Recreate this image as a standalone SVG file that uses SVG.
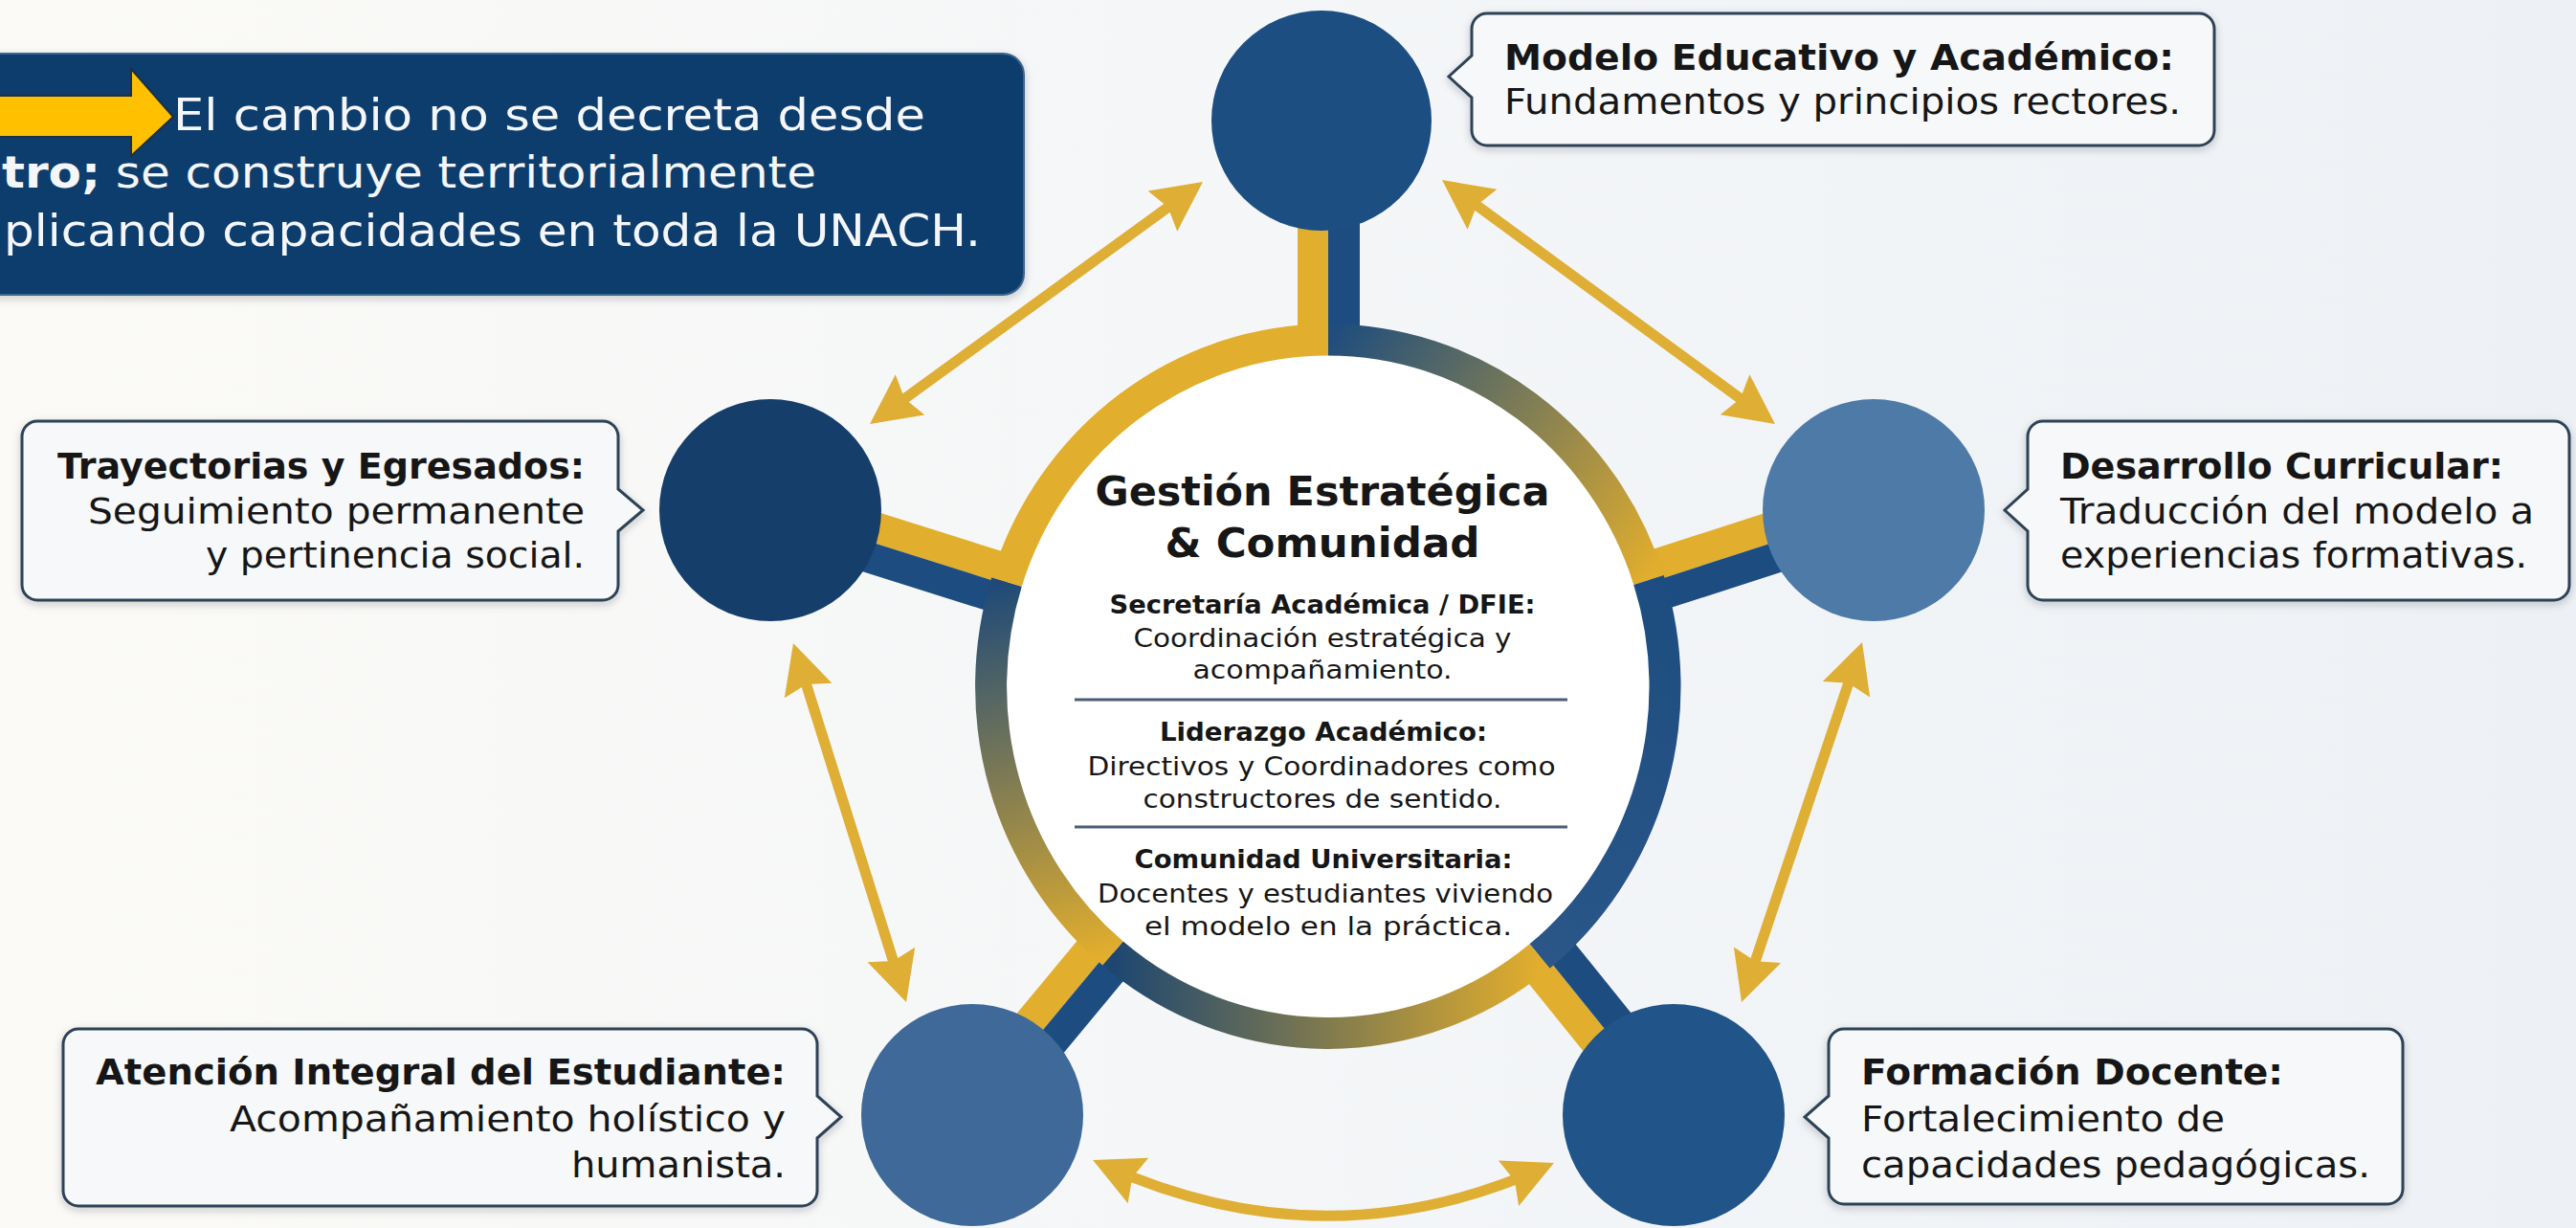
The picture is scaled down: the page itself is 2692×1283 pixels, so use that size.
<svg xmlns="http://www.w3.org/2000/svg" width="2692" height="1283" viewBox="0 0 2692 1283">
<defs>
<style>
.t{font-family:"DejaVu Sans","Open Sans",sans-serif;fill:#161616}
.b{font-weight:700}
.cb{fill:#f6f8fa;stroke:#2e4256;stroke-width:3}
.arr{fill:none;stroke:#dfae35;stroke-width:11;marker-start:url(#ah);marker-end:url(#ah)}
.wt{font-family:"DejaVu Sans","Open Sans",sans-serif;fill:#f4f6f9}
.gold{fill:#e2ae2d}
.blue{fill:#1d4d80}
</style>
<linearGradient id="bg" x1="0" y1="0" x2="1" y2="0">
<stop offset="0" stop-color="#fbfaf6"/>
<stop offset="0.5" stop-color="#f4f6f8"/>
<stop offset="1" stop-color="#edf1f5"/>
</linearGradient>
<linearGradient id="g1" gradientUnits="userSpaceOnUse" x1="1388" y1="355" x2="1723" y2="606">
<stop offset="0" stop-color="#1f4d7c"/><stop offset="1" stop-color="#e2ae2d"/>
</linearGradient>
<linearGradient id="g2" gradientUnits="userSpaceOnUse" x1="1723" y1="606" x2="1609" y2="999">
<stop offset="0" stop-color="#1d4d80"/><stop offset="1" stop-color="#2a5688"/>
</linearGradient>
<linearGradient id="g3" gradientUnits="userSpaceOnUse" x1="1609" y1="999" x2="1163" y2="996">
<stop offset="0" stop-color="#e2ae2d"/><stop offset="1" stop-color="#1d4670"/>
</linearGradient>
<linearGradient id="g4" gradientUnits="userSpaceOnUse" x1="1163" y1="996" x2="1052" y2="608">
<stop offset="0" stop-color="#e2ae2d"/><stop offset="1" stop-color="#1f4a78"/>
</linearGradient>
<marker id="ah" viewBox="0 -28 54 56" refX="40" refY="0" markerWidth="54" markerHeight="56" markerUnits="userSpaceOnUse" orient="auto-start-reverse">
<path d="M0,-26 L52,0 L0,26 L7,0 Z" fill="#dfae35"/>
</marker>
<filter id="sh" x="-10%" y="-20%" width="120%" height="150%">
<feDropShadow dx="0" dy="3" stdDeviation="4" flood-color="#1b2a3a" flood-opacity="0.22"/>
</filter>
</defs>
<rect x="0" y="0" width="2692" height="1283" fill="url(#bg)"/>

<g id="note">
<rect x="-30" y="56" width="1100" height="252" rx="22" fill="#113e6c" stroke="#3a6690" stroke-width="2" filter="url(#sh)"/>
<polygon points="-5,100 137,100 137,72 181,122 137,163 137,143 -5,143" fill="#ffc000" stroke="#1e2f45" stroke-width="2"/>
<text class="wt" x="181" y="136" font-size="46" textLength="786" lengthAdjust="spacingAndGlyphs">El cambio no se decreta desde</text>
<text class="wt" x="2" y="196" font-size="46" textLength="851" lengthAdjust="spacingAndGlyphs"><tspan font-weight="700">tro;</tspan> se construye territorialmente</text>
<text class="wt" x="4" y="257" font-size="46" textLength="1021" lengthAdjust="spacingAndGlyphs">plicando capacidades en toda la UNACH.</text>
</g>

<g id="spokes">
<g transform="translate(1388,717) rotate(-90)"><rect class="gold" x="320" y="-32" width="271" height="32"/><rect class="blue" x="320" y="0" width="271" height="33"/></g>
<g transform="translate(1388,717) rotate(-162.5)"><rect class="gold" x="320" y="0" width="291" height="32"/><rect class="blue" x="320" y="-32" width="291" height="32"/></g>
<g transform="translate(1388,717) rotate(-17.9)"><rect class="gold" x="320" y="-32" width="279" height="32"/><rect class="blue" x="320" y="0" width="279" height="32"/></g>
<g transform="translate(1388,717) rotate(129.7)"><rect class="gold" x="320" y="0" width="262" height="32"/><rect class="blue" x="320" y="-32" width="262" height="32"/></g>
<g transform="translate(1388,717) rotate(51.1)"><rect class="gold" x="320" y="0" width="255" height="32"/><rect class="blue" x="320" y="-32" width="255" height="32"/></g>
</g>

<g id="center">
<ellipse cx="1388" cy="717" rx="352" ry="362" fill="#ffffff"/>
<g fill="none" stroke-width="33">
<path d="M1388,355 A352,362 0 0 1 1723,606" stroke="url(#g1)"/>
<path d="M1723,606 A352,362 0 0 1 1609,999" stroke="url(#g2)"/>
<path d="M1609,999 A352,362 0 0 1 1163,996" stroke="url(#g3)"/>
<path d="M1163,996 A352,362 0 0 1 1052,608" stroke="url(#g4)"/>
<path d="M1052,608 A352,362 0 0 1 1388,355" stroke="#e2ae2d"/>
</g>
<text class="t b" x="1382" y="528" font-size="43" text-anchor="middle" textLength="475" lengthAdjust="spacingAndGlyphs">Gestión Estratégica</text>
<text class="t b" x="1382" y="582" font-size="43" text-anchor="middle" textLength="329" lengthAdjust="spacingAndGlyphs">&amp; Comunidad</text>
<text class="t b" x="1382" y="641" font-size="26" text-anchor="middle" textLength="445" lengthAdjust="spacingAndGlyphs">Secretaría Académica / DFIE:</text>
<text class="t" x="1382" y="676" font-size="26" text-anchor="middle" textLength="395" lengthAdjust="spacingAndGlyphs">Coordinación estratégica y</text>
<text class="t" x="1382" y="709" font-size="26" text-anchor="middle" textLength="271" lengthAdjust="spacingAndGlyphs">acompañamiento.</text>
<line x1="1123" y1="731" x2="1638" y2="731" stroke="#4a5e75" stroke-width="3"/>
<text class="t b" x="1383" y="774" font-size="26" text-anchor="middle" textLength="342" lengthAdjust="spacingAndGlyphs">Liderazgo Académico:</text>
<text class="t" x="1381" y="810" font-size="26" text-anchor="middle" textLength="489" lengthAdjust="spacingAndGlyphs">Directivos y Coordinadores como</text>
<text class="t" x="1382" y="844" font-size="26" text-anchor="middle" textLength="375" lengthAdjust="spacingAndGlyphs">constructores de sentido.</text>
<line x1="1123" y1="864" x2="1638" y2="864" stroke="#4a5e75" stroke-width="3"/>
<text class="t b" x="1383" y="907" font-size="26" text-anchor="middle" textLength="395" lengthAdjust="spacingAndGlyphs">Comunidad Universitaria:</text>
<text class="t" x="1385" y="943" font-size="26" text-anchor="middle" textLength="476" lengthAdjust="spacingAndGlyphs">Docentes y estudiantes viviendo</text>
<text class="t" x="1388" y="977" font-size="26" text-anchor="middle" textLength="384" lengthAdjust="spacingAndGlyphs">el modelo en la práctica.</text>
</g>

<g id="connectors">
<line class="arr" x1="1247.3" y1="197.1" x2="918.7" y2="435.9"/>
<line class="arr" x1="1516.7" y1="195.1" x2="1845.3" y2="435.9"/>
<line class="arr" x1="832.6" y1="683.4" x2="943.4" y2="1035.6"/>
<line class="arr" x1="1942.2" y1="682.4" x2="1823.8" y2="1035.6"/>
<path class="arr" d="M1153,1217 Q1385,1322 1613,1220"/>
</g>

<g id="node-modelo">
<circle cx="1381" cy="126" r="115" fill="#1c4e82"/>
<path class="cb" filter="url(#sh)" d="M1554,14 H2298 A16,16 0 0 1 2314,30 V136 A16,16 0 0 1 2298,152 H1554 A16,16 0 0 1 1538,136 V102 L1514,80 L1538,58 V30 A16,16 0 0 1 1554,14 Z"/>
<text class="t b" x="1572" y="73" font-size="38" textLength="700" lengthAdjust="spacingAndGlyphs">Modelo Educativo y Académico:</text>
<text class="t" x="1572" y="119" font-size="38" textLength="707" lengthAdjust="spacingAndGlyphs">Fundamentos y principios rectores.</text>
</g>

<g id="node-trayectorias">
<circle cx="805" cy="533" r="116" fill="#153e6b"/>
<path class="cb" filter="url(#sh)" d="M39,440 H630 A16,16 0 0 1 646,456 V511 L672,533 L646,555 V611 A16,16 0 0 1 630,627 H39 A16,16 0 0 1 23,611 V456 A16,16 0 0 1 39,440 Z"/>
<text class="t b" x="611" y="500" font-size="38" text-anchor="end" textLength="551" lengthAdjust="spacingAndGlyphs">Trayectorias y Egresados:</text>
<text class="t" x="611" y="547" font-size="38" text-anchor="end" textLength="519" lengthAdjust="spacingAndGlyphs">Seguimiento permanente</text>
<text class="t" x="611" y="593" font-size="38" text-anchor="end" textLength="396" lengthAdjust="spacingAndGlyphs">y pertinencia social.</text>
</g>

<g id="node-curricular">
<circle cx="1958" cy="533" r="116" fill="#4e7aa8"/>
<path class="cb" filter="url(#sh)" d="M2135,440 H2669 A16,16 0 0 1 2685,456 V611 A16,16 0 0 1 2669,627 H2135 A16,16 0 0 1 2119,611 V555 L2095,533 L2119,511 V456 A16,16 0 0 1 2135,440 Z"/>
<text class="t b" x="2153" y="500" font-size="38" textLength="463" lengthAdjust="spacingAndGlyphs">Desarrollo Curricular:</text>
<text class="t" x="2153" y="547" font-size="38" textLength="495" lengthAdjust="spacingAndGlyphs">Traducción del modelo a</text>
<text class="t" x="2153" y="593" font-size="38" textLength="488" lengthAdjust="spacingAndGlyphs">experiencias formativas.</text>
</g>

<g id="node-atencion">
<circle cx="1016" cy="1165" r="116" fill="#3e6998"/>
<path class="cb" filter="url(#sh)" d="M82,1075 H838 A16,16 0 0 1 854,1091 V1145 L879,1167 L854,1189 V1244 A16,16 0 0 1 838,1260 H82 A16,16 0 0 1 66,1244 V1091 A16,16 0 0 1 82,1075 Z"/>
<text class="t b" x="821" y="1133" font-size="38" text-anchor="end" textLength="721" lengthAdjust="spacingAndGlyphs">Atención Integral del Estudiante:</text>
<text class="t" x="821" y="1182" font-size="38" text-anchor="end" textLength="581" lengthAdjust="spacingAndGlyphs">Acompañamiento holístico y</text>
<text class="t" x="821" y="1230" font-size="38" text-anchor="end" textLength="224" lengthAdjust="spacingAndGlyphs">humanista.</text>
</g>

<g id="node-docente">
<circle cx="1749" cy="1165" r="116" fill="#215488"/>
<path class="cb" filter="url(#sh)" d="M1927,1075 H2495 A16,16 0 0 1 2511,1091 V1242 A16,16 0 0 1 2495,1258 H1927 A16,16 0 0 1 1911,1242 V1189 L1886,1167 L1911,1145 V1091 A16,16 0 0 1 1927,1075 Z"/>
<text class="t b" x="1945" y="1133" font-size="38" textLength="441" lengthAdjust="spacingAndGlyphs">Formación Docente:</text>
<text class="t" x="1945" y="1182" font-size="38" textLength="380" lengthAdjust="spacingAndGlyphs">Fortalecimiento de</text>
<text class="t" x="1945" y="1230" font-size="38" textLength="532" lengthAdjust="spacingAndGlyphs">capacidades pedagógicas.</text>
</g>
</svg>
